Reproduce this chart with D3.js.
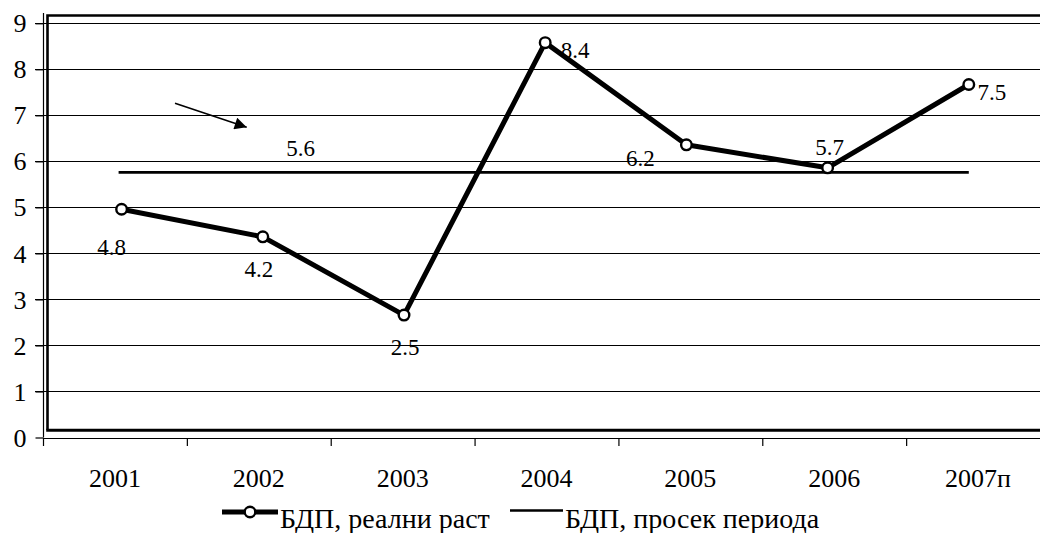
<!DOCTYPE html>
<html><head><meta charset="utf-8">
<script src="https://cdn.jsdelivr.net/npm/d3@7"></script>
<style>
html,body{margin:0;padding:0;background:#fff;}
svg{display:block;}
</style></head>
<body>
<svg id="chart" width="1040" height="533"></svg>
<script>
// ---- data ----
const categories = ["2001","2002","2003","2004","2005","2006","2007п"];
const growthValues = [4.96, 4.36, 2.66, 8.58, 6.36, 5.86, 7.67];   // plotted points
const growthLabels = ["4.8","4.2","2.5","8.4","6.2","5.7","7.5"];   // data labels as printed
const meanValue = 5.76;
const meanLabel = "5.6";
const yTicks = [0,1,2,3,4,5,6,7,8,9];
const seriesNames = ["БДП, реални раст", "БДП, просек периода"];

// ---- layout (not data) ----
const labelOffsets = [[-10,46],[-4,40],[1,40],[30,15],[-46,21],[2,-13],[23,15]];
const FONT = "'Liberation Serif'";
const svg = d3.select("#chart");

const y = d3.scaleLinear().domain([0,9]).range([437.5, 23.3]);
const xBand = d3.scaleBand().domain(categories).range([43, 1050]).padding(0);
const xPt = d3.scalePoint().domain(categories).range([121.6, 968.8]);

// gridlines
svg.append("g").selectAll("line").data(yTicks.filter(d=>d>0)).join("line")
  .attr("x1",35).attr("x2",1040)
  .attr("y1",d=>Math.round(y(d))+0.5).attr("y2",d=>Math.round(y(d))+0.5)
  .attr("stroke","#000").attr("stroke-width",1.2);

// y axis
const yAxis = svg.append("g").attr("transform","translate(43.5,0)")
  .call(d3.axisLeft(y).tickValues(yTicks).tickSize(8).tickFormat(d3.format("d")));
yAxis.attr("font-family",null).attr("font-size",null);
yAxis.select(".domain").attr("d", `M0,${y(0)}V13`).attr("stroke","#000").attr("stroke-width",1.2);
yAxis.selectAll(".tick line").attr("stroke","#000").attr("stroke-width",1.2);
yAxis.selectAll(".tick text").attr("x",-17).attr("dy","0.33em").attr("fill","#000")
  .style("font-size","26px").style("font-family",FONT);

// x axis
const xAxis = svg.append("g").attr("transform",`translate(0,${Math.round(y(0))+0.5})`)
  .call(d3.axisBottom(xBand).tickSize(0).tickPadding(0));
xAxis.attr("font-family",null).attr("font-size",null);
xAxis.select(".domain").attr("d","M43,0H1040").attr("stroke","#000").attr("stroke-width",1.2);
xAxis.selectAll(".tick text").attr("y",48).attr("dy",0).attr("fill","#000")
  .style("font-size","26px").style("font-family",FONT);
svg.append("g").selectAll("line").data(categories).join("line")
  .attr("x1",d=>xBand(d)+0.5).attr("x2",d=>xBand(d)+0.5)
  .attr("y1",Math.round(y(0))).attr("y2",Math.round(y(0))+8)
  .attr("stroke","#000").attr("stroke-width",1.2);

// plot-area frame (thick)
svg.append("path").attr("d","M47.5,430 V15.5 H1045")
  .attr("fill","none").attr("stroke","#000").attr("stroke-width",2.6);
svg.append("path").attr("d","M46.2,430.3 H1045")
  .attr("fill","none").attr("stroke","#000").attr("stroke-width",3);

// mean line
svg.append("line")
  .attr("x1",xPt(categories[0])-3).attr("x2",xPt(categories[categories.length-1]))
  .attr("y1",y(meanValue)).attr("y2",y(meanValue))
  .attr("stroke","#000").attr("stroke-width",2.8);

// growth line
const line = d3.line().x((d,i)=>xPt(categories[i])).y(d=>y(d));
svg.append("path").datum(growthValues).attr("d",line)
  .attr("fill","none").attr("stroke","#000").attr("stroke-width",5).attr("stroke-linejoin","round");
svg.append("g").selectAll("circle").data(growthValues).join("circle")
  .attr("cx",(d,i)=>xPt(categories[i])).attr("cy",d=>y(d)).attr("r",5.3)
  .attr("fill","#fff").attr("stroke","#000").attr("stroke-width",2.4);

// data labels
svg.append("g").selectAll("text").data(growthLabels).join("text")
  .attr("x",(d,i)=>xPt(categories[i])+labelOffsets[i][0])
  .attr("y",(d,i)=>y(growthValues[i])+labelOffsets[i][1])
  .attr("text-anchor","middle").style("font-family",FONT).style("font-size","23px").text(d=>d);
svg.append("text").attr("x",300.5).attr("y",y(meanValue)-16)
  .attr("text-anchor","middle").style("font-family",FONT).style("font-size","23px").text(meanLabel);

// arrow annotation
svg.append("defs").append("marker").attr("id","ah")
  .attr("viewBox","0 0 10 10").attr("refX",10).attr("refY",5)
  .attr("markerWidth",16).attr("markerHeight",12).attr("markerUnits","userSpaceOnUse")
  .attr("orient","auto").append("path").attr("d","M0,0L10,5L0,10z").attr("fill","#000");
svg.append("line").attr("x1",175).attr("y1",103.3).attr("x2",246.7).attr("y2",127.3)
  .attr("stroke","#000").attr("stroke-width",1.6).attr("marker-end","url(#ah)");

// legend
const lg = svg.append("g");
lg.append("line").attr("x1",222).attr("x2",278).attr("y1",512).attr("y2",512)
  .attr("stroke","#000").attr("stroke-width",5);
lg.append("circle").attr("cx",250).attr("cy",512).attr("r",5.3)
  .attr("fill","#fff").attr("stroke","#000").attr("stroke-width",2.4);
lg.append("text").attr("x",280).attr("y",528).style("font-family",FONT).style("font-size","28px").text(seriesNames[0]);
lg.append("line").attr("x1",510).attr("x2",563).attr("y1",510.5).attr("y2",510.5)
  .attr("stroke","#000").attr("stroke-width",2.5);
lg.append("text").attr("x",565).attr("y",528).style("font-family",FONT).style("font-size","28px").text(seriesNames[1]);
</script>
</body></html>
